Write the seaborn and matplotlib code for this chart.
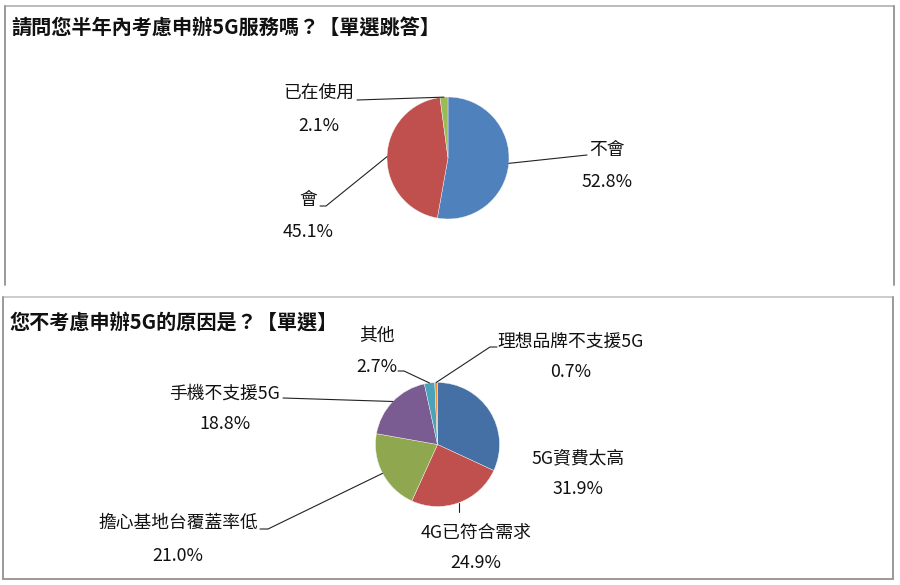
import numpy as np
import matplotlib
matplotlib.use("Agg")
import matplotlib.pyplot as plt
import seaborn as sns

# data
q1_title = "請問您半年內考慮申辦5G服務嗎？【單選跳答】"
q1_labels = ["不會", "會", "已在使用"]
q1_values = [52.8, 45.1, 2.1]
q1_colors = ["#4F81BD", "#C0504D", "#9BBB59"]

q2_title = "您不考慮申辦5G的原因是？【單選】"
q2_labels = ["5G資費太高", "4G已符合需求", "擔心基地台覆蓋率低", "手機不支援5G", "其他", "理想品牌不支援5G"]
q2_values = [31.9, 24.9, 21.0, 18.8, 2.7, 0.7]
q2_colors = ["#4470A5", "#C0504D", "#8FA84F", "#7A5C92", "#4AA3B8", "#F0913E"]

sns.set_theme(style="white")
plt.rcParams["font.family"] = ["Noto Sans CJK TC", "DejaVu Sans"]

W, H = 900, 585
fig = plt.figure(figsize=(W / 100, H / 100), dpi=100)
fig.patch.set_facecolor("white")
ax = fig.add_axes([0, 0, 1, 1])


def draw_pie(values, colors, center, radius):
    wedges, _ = ax.pie(values, colors=sns.color_palette(colors), center=center, radius=radius,
                       startangle=270, counterclock=True, frame=True,
                       wedgeprops=dict(edgecolor="#F4F4F4", linewidth=0.3))
    anchors = []
    for w in wedges:
        mid = np.deg2rad((w.theta1 + w.theta2) / 2)
        anchors.append((center[0] + radius * np.cos(mid), center[1] + radius * np.sin(mid)))
    return anchors


def label(name, pct, x, y_name, y_pct):
    ax.text(x, y_name, name, ha="center", va="center", fontsize=12.8, color="#111111")
    ax.text(x, y_pct, f"{pct:.1f}%", ha="center", va="center", fontsize=12.8, color="#111111")


def leader(points, anchor):
    xs = [p[0] for p in points] + [anchor[0]]
    ys = [p[1] for p in points] + [anchor[1]]
    ax.plot(xs, ys, color="#222222", lw=0.8)


# panel frames
frame_kw = dict(color="#9A9A9A", lw=1.4)
ax.plot([5, 894], [6, 6], color="#BBBBBB", lw=1.4)
ax.plot([5, 5], [6, 285], **frame_kw)
ax.plot([894, 894], [6, 285], **frame_kw)
ax.plot([3, 893], [297, 297], color="#CCCCCC", lw=1.4)
ax.plot([3, 3], [297, 579], **frame_kw)
ax.plot([893, 893], [297, 579], **frame_kw)
ax.plot([3, 893], [579, 579], **frame_kw)

# titles
ax.text(11, 28, q1_title, ha="left", va="center", fontsize=14.5, fontweight="bold", color="#111111")
ax.text(10, 322, q2_title, ha="left", va="center", fontsize=14.5, fontweight="bold", color="#111111")

# top pie
a1 = draw_pie(q1_values, q1_colors, (448, 158), 61)
label(q1_labels[0], q1_values[0], 607, 150, 182)
label(q1_labels[1], q1_values[1], 308, 200, 232)
label(q1_labels[2], q1_values[2], 319, 94, 126)
leader([(587, 155)], a1[0])
leader([(320, 206), (326, 206)], a1[1])
leader([(357, 100)], a1[2])

# bottom pie
a2 = draw_pie(q2_values, q2_colors, (437.5, 444.5), 62)
label(q2_labels[0], q2_values[0], 578, 458, 489)
label(q2_labels[1], q2_values[1], 476, 533, 563)
label(q2_labels[2], q2_values[2], 178, 523, 556)
label(q2_labels[3], q2_values[3], 225, 394, 424)
label(q2_labels[4], q2_values[4], 377, 336, 367)
label(q2_labels[5], q2_values[5], 571, 342, 372)
leader([(a2[1][0], 512)], a2[1])
leader([(260, 529), (268, 529)], a2[2])
leader([(283, 398)], a2[3])
leader([(398, 371), (404, 371)], a2[4])
leader([(497, 347), (490, 347)], a2[5])

ax.set_xlim(0, W)
ax.set_ylim(H, 0)
ax.set_xticks([])
ax.set_yticks([])
for s in ax.spines.values():
    s.set_visible(False)

fig.savefig("out.png", dpi=100, facecolor="white")
